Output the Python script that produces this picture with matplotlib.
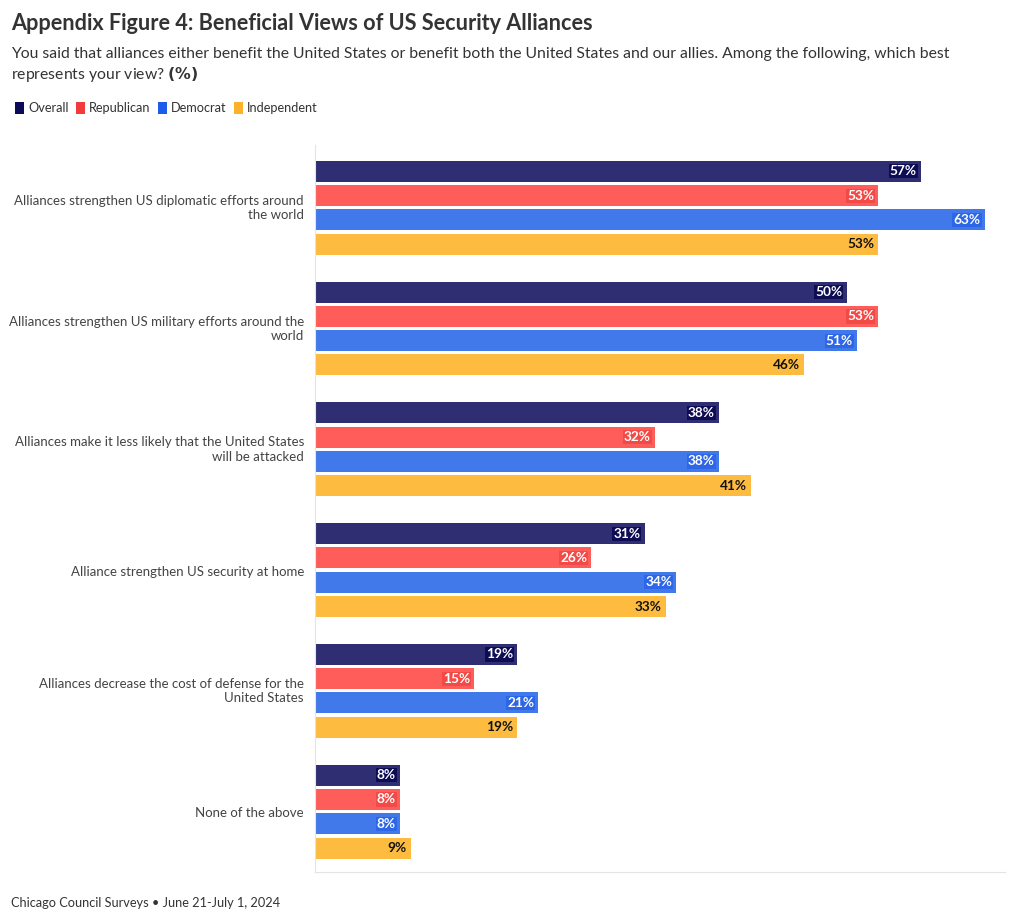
import numpy as np
import matplotlib
matplotlib.use('Agg')
from matplotlib import pyplot as plt
from matplotlib.patches import Patch
from matplotlib.transforms import ScaledTranslation

plt.rcParams['font.family'] = ['Lato', 'DejaVu Sans']

categories = ['Alliances strengthen US diplomatic efforts around\nthe world',
              'Alliances strengthen US military efforts around the\nworld',
              'Alliances make it less likely that the United States\nwill be attacked',
              'Alliance strengthen US security at home',
              'Alliances decrease the cost of defense for the\nUnited States',
              'None of the above']
series_names = ['Overall', 'Republican', 'Democrat', 'Independent']
overall = [57, 50, 38, 31, 19, 8]
republican = [53, 53, 32, 26, 15, 8]
democrat = [63, 51, 38, 34, 21, 8]
independent = [53, 46, 41, 33, 19, 9]

bar_colors = ['#2f2e72', '#fe5d5a', '#4279ea', '#fdbb40']
swatch_colors = ['#0b0b57', '#f23b3b', '#1b5de8', '#fdb02a']
label_bg = ['#0d0c55', '#f24a47', '#2d66e6', '#fdbb40']
label_fg = ['white', 'white', 'white', '#111111']

fig = plt.figure(figsize=(10.2, 9.22), dpi=100)
ax = fig.add_axes([315 / 1020, 1 - 872 / 922, 690 / 1020, 727 / 922])

y = np.arange(len(categories))
step = 0.201
values = [overall, republican, democrat, independent]
for k, vals in enumerate(values):
    pos = y + (k - 1.5) * step
    ax.barh(pos, vals, height=0.174, color=bar_colors[k])
    for p, v in zip(pos, vals):
        ax.text(v - 0.4, p, f'{v}%', ha='right', va='center', fontsize=9.8,
                fontweight='bold', color=label_fg[k],
                bbox=dict(boxstyle='square,pad=0.08', fc=label_bg[k], ec='none'))

ax.set_xlim(0, 64.9)
ax.set_ylim(5.5, -0.52)
ax.set_xticks([])
ax.set_yticks(y)
ax.set_yticklabels(categories, fontsize=9.5, color='#444444', linespacing=1.25)
ax.tick_params(axis='y', length=0, pad=8)
for lab in ax.get_yticklabels():
    dy = 2 if '\n' in lab.get_text() else -0.5
    lab.set_transform(lab.get_transform() + ScaledTranslation(0, dy / 100, fig.dpi_scale_trans))
for s in ['top', 'right']:
    ax.spines[s].set_visible(False)
for s in ['left', 'bottom']:
    ax.spines[s].set_color('#e4e4e4')
    ax.spines[s].set_linewidth(0.8)

fig.text(11 / 1020, 1 - 24 / 922, 'Appendix Figure 4: Beneficial Views of US Security Alliances',
         fontsize=15.6, fontweight='bold', color='#333333', va='center')
fig.text(11 / 1020, 1 - 54 / 922,
         'You said that alliances either benefit the United States or benefit both the United States and our allies. Among the following, which best',
         fontsize=11.3, color='#333333', va='center')
fig.text(11 / 1020, 1 - 75 / 922, 'represents your view? $\\bf{(\\%)}$',
         fontsize=11.3, color='#333333', va='center')

handles = [Patch(facecolor=c, edgecolor='none') for c in swatch_colors]
fig.legend(handles, series_names, loc='center left', bbox_to_anchor=(4 / 1020, 1 - 108 / 922),
           ncol=4, frameon=False, fontsize=9.2, handlelength=0.7, handleheight=1.1,
           handletextpad=0.3, columnspacing=0.6, labelcolor='#333333')

fig.text(11 / 1020, 1 - 903 / 922, 'Chicago Council Surveys \u2022 June 21-July 1, 2024',
         fontsize=9.2, color='#333333', va='center')

fig.savefig('out.png', dpi=100, facecolor='white')
